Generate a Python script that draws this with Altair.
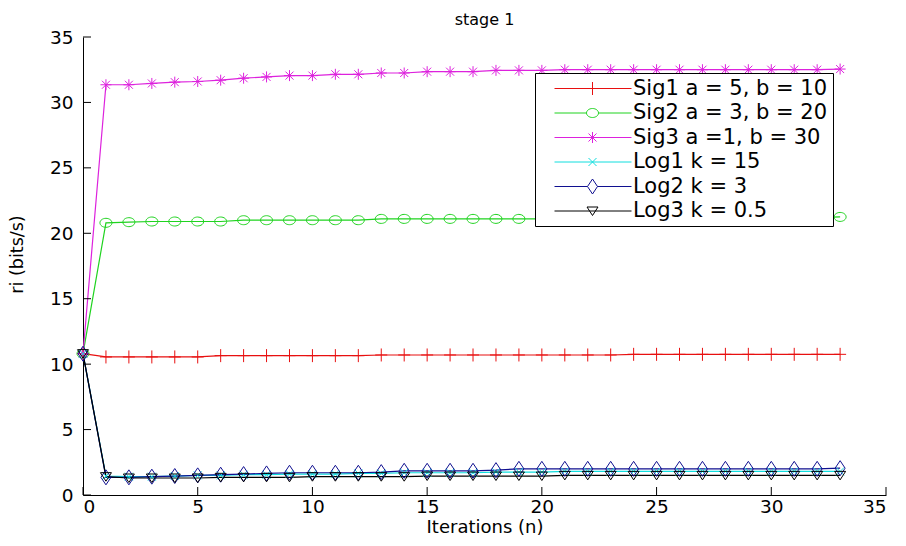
import altair as alt
import pandas as pd

# ---------------- data ----------------
iterations = [0, 1, 2, 3, 4, 5, 6, 7, 8, 9, 10, 11, 12, 13, 14, 15, 16, 17,
              18, 19, 20, 21, 22, 23, 24, 25, 26, 27, 28, 29, 30, 31, 32, 33]

series_names = ["Sig1 a = 5, b = 10", "Sig2 a = 3, b = 20", "Sig3 a =1, b = 30",
                "Log1 k = 15", "Log2 k = 3", "Log3 k = 0.5"]

sig1 = [10.8, 10.55, 10.55, 10.55, 10.55, 10.55, 10.65, 10.65, 10.65, 10.65,
        10.65, 10.65, 10.65, 10.7, 10.7, 10.7, 10.7, 10.7, 10.7, 10.7, 10.7,
        10.7, 10.7, 10.7, 10.75, 10.75, 10.75, 10.75, 10.75, 10.75, 10.75,
        10.75, 10.75, 10.75]
sig2 = [10.8, 20.8, 20.85, 20.9, 20.9, 20.9, 20.9, 21.0, 21.0, 21.0, 21.0,
        21.0, 21.0, 21.1, 21.1, 21.1, 21.1, 21.1, 21.1, 21.1, 21.1, 21.15,
        21.15, 21.15, 21.15, 21.15, 21.2, 21.2, 21.2, 21.2, 21.2, 21.2, 21.2,
        21.25]
sig3 = [10.8, 31.35, 31.35, 31.45, 31.55, 31.6, 31.7, 31.85, 31.95, 32.05,
        32.05, 32.15, 32.15, 32.25, 32.25, 32.35, 32.35, 32.35, 32.45, 32.45,
        32.45, 32.5, 32.5, 32.5, 32.5, 32.5, 32.5, 32.5, 32.5, 32.5, 32.5,
        32.5, 32.5, 32.55]
log1 = [10.8, 1.45, 1.4, 1.4, 1.45, 1.5, 1.5, 1.55, 1.55, 1.6, 1.6, 1.6,
        1.65, 1.65, 1.7, 1.7, 1.7, 1.7, 1.75, 1.75, 1.75, 1.8, 1.8, 1.8, 1.8,
        1.8, 1.8, 1.8, 1.8, 1.8, 1.8, 1.8, 1.8, 1.8]
log2 = [10.8, 1.35, 1.35, 1.4, 1.45, 1.5, 1.55, 1.6, 1.65, 1.7, 1.7, 1.7,
        1.7, 1.75, 1.85, 1.85, 1.85, 1.85, 1.9, 2.0, 2.0, 2.0, 2.0, 2.0, 2.0,
        2.0, 2.0, 2.0, 2.0, 2.0, 2.0, 2.0, 2.0, 2.05]
log3 = [10.8, 1.4, 1.3, 1.3, 1.3, 1.3, 1.35, 1.35, 1.35, 1.35, 1.4, 1.4,
        1.4, 1.4, 1.4, 1.45, 1.45, 1.45, 1.45, 1.45, 1.45, 1.5, 1.5, 1.5, 1.5,
        1.5, 1.5, 1.5, 1.5, 1.5, 1.5, 1.5, 1.5, 1.5]

x_ticks = [0, 5, 10, 15, 20, 25, 30, 35]
y_ticks = [0, 5, 10, 15, 20, 25, 30, 35]

# ---------------- styles ----------------
series_colors = ["#e81010", "#1fd31f", "#dd22dd", "#10dede", "#101090", "#000000"]

marker_paths = [
    "M-1.2,0H1.2M0,-1.3V1.3",                                          # +
    "M1.2,0A1.2,0.9 0 1,1 -1.2,0A1.2,0.9 0 1,1 1.2,0Z",                # o
    "M-1.1,0H1.1M0,-1.1V1.1M-0.8,-0.8L0.8,0.8M-0.8,0.8L0.8,-0.8",      # *
    "M-0.8,-0.8L0.8,0.8M-0.8,0.8L0.8,-0.8",                            # x
    "M0,-1.5L1,0L0,1.5L-1,0Z",                                         # diamond
    "M-1.1,-0.8H1.1L0,0.9Z",                                           # v
]
legend_paths = [
    "M0.8,0H16.2M7.2,0H9.6M8.4,-1.3V1.3",
    "M0.8,0H7.2M9.6,0H16.2M9.6,0A1.2,0.9 0 1,1 7.2,0A1.2,0.9 0 1,1 9.6,0Z",
    "M0.8,0H16.2M8.4,-1.1V1.1M7.6,-0.8L9.2,0.8M7.6,0.8L9.2,-0.8",
    "M0.8,0H16.2M7.6,-0.8L9.2,0.8M7.6,0.8L9.2,-0.8",
    "M0.8,0H7.4M9.4,0H16.2M8.4,-1.5L9.4,0L8.4,1.5L7.4,0Z",
    "M0.8,0H16.2M7.3,-0.8H9.5L8.4,0.9Z",
]

FONT = "DejaVu Sans"
W, H = 803, 458

rows = []
for name, vals in zip(series_names, [sig1, sig2, sig3, log1, log2, log3]):
    for n, v in zip(iterations, vals):
        rows.append({"n": n, "rate": v, "series": name})
df = pd.DataFrame(rows)

x_scale = alt.Scale(domain=[0, 35], nice=False, zero=False)
y_scale = alt.Scale(domain=[0, 35], nice=False, zero=False)

x_axis = alt.Axis(values=x_ticks, ticks=False, grid=False, domainColor="black",
                  domainWidth=1, labelFont=FONT, labelFontSize=18.5,
                  labelColor="black", labelPadding=2, title="Iterations (n)",
                  titleFont=FONT, titleFontSize=18, titleFontWeight="normal",
                  titleColor="black", titleBaseline="alphabetic", titleY=37)
y_axis = alt.Axis(values=y_ticks, ticks=False, grid=False, domainColor="black",
                  domainWidth=1, labelFont=FONT, labelFontSize=18.5,
                  labelColor="black", labelPadding=10, title="ri (bits/s)",
                  titleFont=FONT, titleFontSize=17.5, titleFontWeight="normal",
                  titleColor="black", titleAngle=270, titleBaseline="bottom",
                  titleX=-57, titleY=H / 2 - 12)

X = alt.X("n:Q", scale=x_scale, axis=x_axis)
Y = alt.Y("rate:Q", scale=y_scale, axis=y_axis)

color_plain = alt.Color("series:N", scale=alt.Scale(domain=series_names, range=series_colors), legend=None)

legend_def = alt.Legend(orient="none", legendX=452, legendY=36, title=None,
                        padding=5, strokeColor="black", fillColor="white",
                        labelFont=FONT, labelFontSize=21, labelColor="black",
                        labelOffset=72, rowPadding=2.5, symbolSize=100,
                        symbolStrokeWidth=1, labelLimit=400, cornerRadius=0)

base = alt.Chart(df)

lines = base.mark_line(strokeWidth=1.2).encode(x=X, y=Y, color=color_plain)

points = base.mark_point(filled=False, size=100, strokeWidth=1, opacity=1).encode(
    x=X, y=Y, color=color_plain,
    shape=alt.Shape("series:N", scale=alt.Scale(domain=series_names, range=marker_paths), legend=None),
)

legend_layer = base.transform_filter("false").mark_point(
    filled=False, size=100, strokeWidth=1, opacity=1).encode(
    x=X, y=Y,
    color=alt.Color("series:N", scale=alt.Scale(domain=series_names, range=series_colors), legend=legend_def),
    shape=alt.Shape("series:N", scale=alt.Scale(domain=series_names, range=legend_paths), legend=legend_def),
)

ytick_df = pd.DataFrame({"v": y_ticks})
xtick_df = pd.DataFrame({"v": x_ticks})

y_tick_rules = alt.Chart(ytick_df).mark_rule(color="black", strokeWidth=1).encode(
    y=alt.Y("v:Q", scale=y_scale, axis=y_axis), x=alt.value(0), x2=alt.value(8))
x_tick_rules = alt.Chart(xtick_df).mark_rule(color="black", strokeWidth=1).encode(
    x=alt.X("v:Q", scale=x_scale, axis=x_axis), y=alt.value(H), y2=alt.value(H - 8))

chart = alt.layer(lines, points, y_tick_rules, x_tick_rules, legend_layer).resolve_scale(
    color="independent", shape="independent"
).properties(
    width=W, height=H,
    title=alt.TitleParams("stage 1", font=FONT, fontSize=16, fontWeight="normal",
                          color="black", anchor="middle", offset=5, dy=5),
    autosize=alt.AutoSizeParams(type="none"),
    padding={"left": 75, "top": 29, "right": 12, "bottom": 43},
    background="white",
).configure_view(stroke=None)

chart.save("out.html", embed_options={"renderer": "svg", "actions": False})
